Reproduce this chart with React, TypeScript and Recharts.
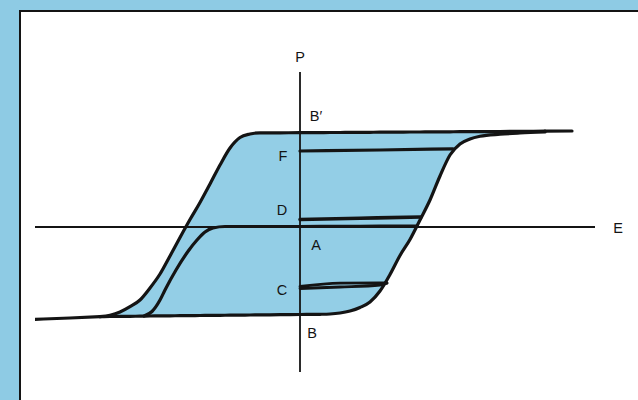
import { Area, ComposedChart, Line, ReferenceDot, ReferenceLine, XAxis, YAxis } from 'recharts';

// Outer hysteresis loop: field E and the lower / upper polarization branch at each E
const loopE = [-20, -19, -18, -17, -16, -15, -14, -13, -12, -11, -10, -9, -8, -7, -6, -5, -4, -2, 0, 2, 3, 4, 5, 6, 7, 8, 9, 10, 11, 12, 13, 14, 15, 16, 17, 18, 20, 22, 24.5];
const loopUpper = [-8.97, -8.82, -8.5, -7.97, -7.3, -6.1, -4.7, -2.9, -1.05, 0.75, 2.45, 4.3, 6.2, 7.9, 8.95, 9.3, 9.42, 9.42, 9.43, 9.44, 9.45, 9.45, 9.46, 9.46, 9.47, 9.48, 9.48, 9.49, 9.5, 9.5, 9.51, 9.51, 9.52, 9.53, 9.53, 9.54, 9.55, 9.56, 9.58];
const loopLower = [-8.97, -8.95, -8.94, -8.93, -8.92, -8.9, -8.89, -8.88, -8.87, -8.86, -8.85, -8.84, -8.83, -8.82, -8.81, -8.8, -8.79, -8.77, -8.75, -8.73, -8.7, -8.6, -8.4, -8.05, -7.5, -6.4, -4.75, -2.85, -1.25, 0.7, 2.7, 5.1, 7.2, 8.3, 8.8, 9.07, 9.28, 9.4, 9.5];

// saturation tails beyond the loop
const topTailE = [24.5, 27.2];
const topTailP = [9.58, 9.6];
const bottomTailE = [-26.5, -23, -20];
const bottomTailP = [-9.23, -9.1, -8.97];

// initial curve rising from the lower branch and running along P = 0
const virginE = [-15.6, -14.8, -14, -13.5, -12.4, -11.1, -10.3, -9.5, -8.7, -7.5, -4, 0, 4, 8, 11.7];
const virginP = [-8.9, -8.45, -7.3, -6.3, -4.3, -2.3, -1.3, -0.5, -0.1, 0.05, 0.05, 0.05, 0.07, 0.08, 0.1];

// remanent states
const fE = [0, 8, 15.3];
const fP = [7.6, 7.7, 7.82];
const dE = [0, 6, 12.1];
const dP = [0.75, 0.88, 1.0];
const cE = [0, 4, 8, 8.7];
const cUpperP = [-5.95, -5.62, -5.58, -5.6];
const cLowerP = [-6.15, -6.0, -5.8, -5.62];

// named points on the P axis
const labelNames = ['P', 'E', 'B′', 'F', 'D', 'A', 'C', 'B'];
const labelE = [0, 29.5, 0, 0, 0, 0, 0, 0];
const labelP = [15.5, 0, 9.43, 7.6, 0.75, 0, -6.05, -8.75];
const labelShift: [number, number][] = [
  [0, -15],
  [23, 1],
  [16, -17],
  [-17, 5],
  [-18, -9.5],
  [16, 18],
  [-18, 2.5],
  [12, 18.5],
];

const INK = '#141414';
const FILL = '#93cee6';
const FRAME = '#8ecbe4';

const loopTable = loopE.map((e, i) => ({ e, band: [loopLower[i], loopUpper[i]] }));
const toPoints = (es: number[], ps: number[]) => es.map((e, i) => ({ e, p: ps[i] }));

const curves = [
  { key: 'upper', data: toPoints(loopE, loopUpper), width: 3.2 },
  { key: 'lower', data: toPoints(loopE, loopLower), width: 3.2 },
  { key: 'topTail', data: toPoints(topTailE, topTailP), width: 3.2 },
  { key: 'bottomTail', data: toPoints(bottomTailE, bottomTailP), width: 3.2 },
  { key: 'virgin', data: toPoints(virginE, virginP), width: 3.2 },
  { key: 'f', data: toPoints(fE, fP), width: 3.2 },
  { key: 'd', data: toPoints(dE, dP), width: 3.6 },
  { key: 'cUpper', data: toPoints(cE, cUpperP), width: 2.8 },
  { key: 'cLower', data: toPoints(cE, cLowerP), width: 2.8 },
];

export default function App() {
  return (
    <div style={{ position: 'absolute', left: 0, top: 0, width: 638, height: 400, background: FRAME, overflow: 'hidden' }}>
      <div
        style={{
          position: 'absolute',
          left: 19,
          top: 10,
          right: 0,
          bottom: 0,
          background: '#fff',
          borderLeft: `2px solid ${INK}`,
          borderTop: `2px solid ${INK}`,
        }}
      />
      <div style={{ position: 'absolute', left: 0, top: 0 }}>
        <ComposedChart width={638} height={400} margin={{ top: 72, right: 43, bottom: 28, left: 35 }}>
          <XAxis type="number" dataKey="e" domain={[-26.5, 29.5]} allowDataOverflow hide />
          <YAxis type="number" domain={[-14.5, 15.5]} allowDataOverflow hide />
          <Area
            data={loopTable}
            dataKey="band"
            type="monotone"
            fill={FILL}
            fillOpacity={1}
            stroke="none"
            isAnimationActive={false}
            activeDot={false}
          />
          <ReferenceLine x={0} stroke={INK} strokeWidth={1.8} />
          <ReferenceLine y={0} stroke={INK} strokeWidth={1.8} />
          {curves.map((c) => (
            <Line
              key={c.key}
              name={c.key}
              data={c.data}
              dataKey="p"
              type="monotone"
              stroke={INK}
              strokeWidth={c.width}
              strokeLinecap="round"
              strokeLinejoin="round"
              dot={false}
              activeDot={false}
              isAnimationActive={false}
            />
          ))}
          {labelNames.map((name, i) => (
            <ReferenceDot
              key={name}
              x={labelE[i]}
              y={labelP[i]}
              r={1}
              shape={(props: any) => (
                <text
                  x={props.cx + labelShift[i][0]}
                  y={props.cy + labelShift[i][1] + 5}
                  textAnchor="middle"
                  fontFamily="'Liberation Sans', Arial, sans-serif"
                  fontSize={14.5}
                  fill={INK}
                >
                  {name}
                </text>
              )}
            />
          ))}
        </ComposedChart>
      </div>
    </div>
  );
}
